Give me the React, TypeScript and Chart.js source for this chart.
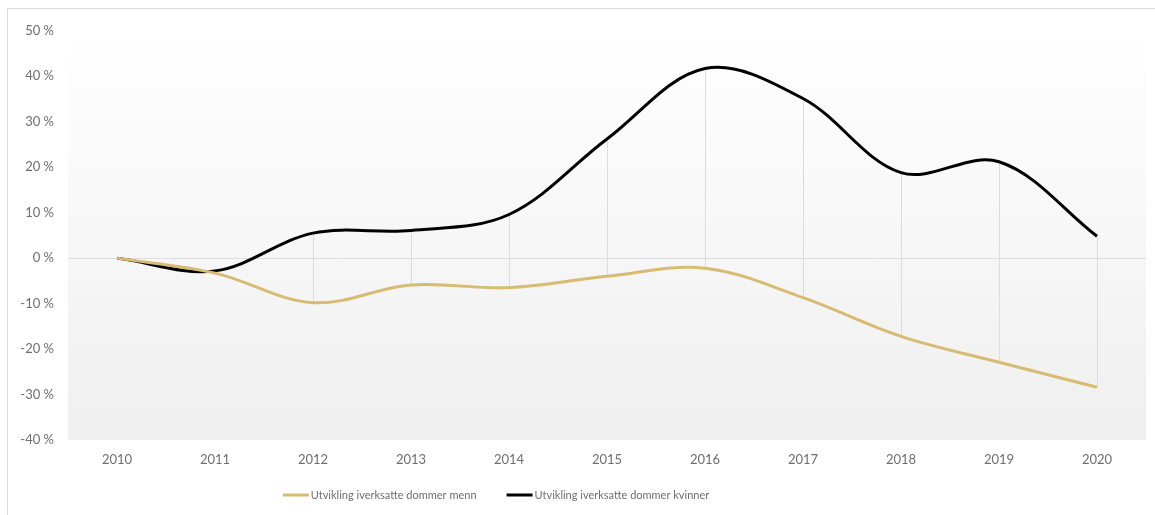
import React, { useEffect, useRef } from "react";
import { Chart, registerables } from "chart.js";

Chart.register(...registerables);

const years = ["2010", "2011", "2012", "2013", "2014", "2015", "2016", "2017", "2018", "2019", "2020"];
const menn = [0, -3.3, -9.8, -5.9, -6.5, -4.0, -2.2, -8.7, -17.2, -22.9, -28.4];
const kvinner = [0, -2.8, 5.5, 6.1, 9.6, 26.2, 41.7, 35.1, 18.8, 21.2, 4.8];
const seriesNames = ["Utvikling iverksatte dommer menn", "Utvikling iverksatte dommer kvinner"];
const yMin = -40;
const yMax = 50;
const yStep = 10;

const FONT = 'Lato, "Open Sans", sans-serif';
const LEGEND_FONT = `11px ${FONT}`;

const bgPlugin = {
  id: "bgGradient",
  beforeDraw(chart: any) {
    const { ctx, chartArea } = chart;
    if (!chartArea) return;
    const g = ctx.createLinearGradient(0, chartArea.top, 0, chartArea.bottom);
    g.addColorStop(0, "#ffffff");
    g.addColorStop(1, "#efefef");
    ctx.save();
    ctx.fillStyle = g;
    ctx.fillRect(chartArea.left, chartArea.top, chartArea.right - chartArea.left, chartArea.bottom - chartArea.top);
    ctx.restore();
  },
};

const hiLoPlugin = {
  id: "hiLo",
  beforeDatasetsDraw(chart: any) {
    const { ctx, scales } = chart;
    const xs = scales.x;
    const ys = scales.y;
    ctx.save();
    ctx.strokeStyle = "#dcdcdc";
    ctx.lineWidth = 1;
    for (let i = 0; i < years.length; i++) {
      const x = Math.round(xs.getPixelForValue(i)) + 0.5;
      const a = ys.getPixelForValue(menn[i]);
      const b = ys.getPixelForValue(kvinner[i]);
      ctx.beginPath();
      ctx.moveTo(x, a);
      ctx.lineTo(x, b);
      ctx.stroke();
    }
    ctx.restore();
  },
};

const legendPlugin = {
  id: "customLegend",
  afterDraw(chart: any) {
    const { ctx } = chart;
    const sampleW = 26;
    const gap = 2;
    const itemGap = 30;
    ctx.save();
    ctx.font = LEGEND_FONT;
    const ds = chart.data.datasets;
    const widths = ds.map((d: any) => sampleW + gap + ctx.measureText(d.label).width);
    const total = widths.reduce((a: number, b: number) => a + b, 0) + itemGap * (ds.length - 1);
    const center = chart.width / 2 - 86;
    let x = center - total / 2;
    const y = chart.height - 20;
    ds.forEach((d: any, i: number) => {
      ctx.fillStyle = d.borderColor;
      ctx.fillRect(x, y - 1.5, sampleW, 3);
      ctx.fillStyle = "#6e6e6e";
      ctx.textBaseline = "middle";
      ctx.textAlign = "left";
      ctx.fillText(d.label, x + sampleW + gap, y);
      x += widths[i] + itemGap;
    });
    ctx.restore();
  },
};

export default function App() {
  const ref = useRef<HTMLCanvasElement | null>(null);
  useEffect(() => {
    if (!ref.current) return;
    const chart = new Chart(ref.current, {
      type: "line",
      data: {
        labels: years,
        datasets: [
          {
            label: seriesNames[0],
            data: menn,
            borderColor: "#d8bb72",
            backgroundColor: "#d8bb72",
            borderWidth: 3,
            pointRadius: 0,
            tension: 0.35,
          },
          {
            label: seriesNames[1],
            data: kvinner,
            borderColor: "#000000",
            backgroundColor: "#000000",
            borderWidth: 3,
            pointRadius: 0,
            tension: 0.35,
          },
        ],
      },
      options: {
        responsive: false,
        animation: false,
        layout: { padding: { top: 19, left: 0, right: 10, bottom: 43 } },
        scales: {
          x: {
            offset: true,
            grid: { display: false, drawTicks: false, offset: true },
            border: { display: false },
            ticks: { color: "#6e6e6e", font: { family: FONT, size: 13 }, padding: 12 },
            afterFit: (s: any) => {
              s.height = 32;
            },
          },
          y: {
            min: yMin,
            max: yMax,
            grid: {
              drawTicks: false,
              color: (c: any) => (c.tick && c.tick.value === 0 ? "#dedede" : "rgba(0,0,0,0)"),
              lineWidth: 1,
            },
            border: { display: false },
            ticks: {
              stepSize: yStep,
              color: "#6e6e6e",
              font: { family: FONT, size: 13 },
              padding: 14,
              callback: (v: any) => `${v} %`,
            },
            afterFit: (s: any) => {
              s.width = 60;
            },
          },
        },
        plugins: {
          legend: { display: false },
          tooltip: { enabled: false },
        },
      },
      plugins: [bgPlugin, hiLoPlugin, legendPlugin],
    });
    return () => chart.destroy();
  }, []);
  return (
    <div
      style={{
        position: "fixed",
        left: 7,
        top: 8,
        width: 1170,
        height: 530,
        border: "1px solid #dadada",
        background: "#fff",
        overflow: "hidden",
      }}
    >
      <canvas ref={ref} width={1148} height={506} style={{ display: "block", width: 1148, height: 506 }} />
    </div>
  );
}
